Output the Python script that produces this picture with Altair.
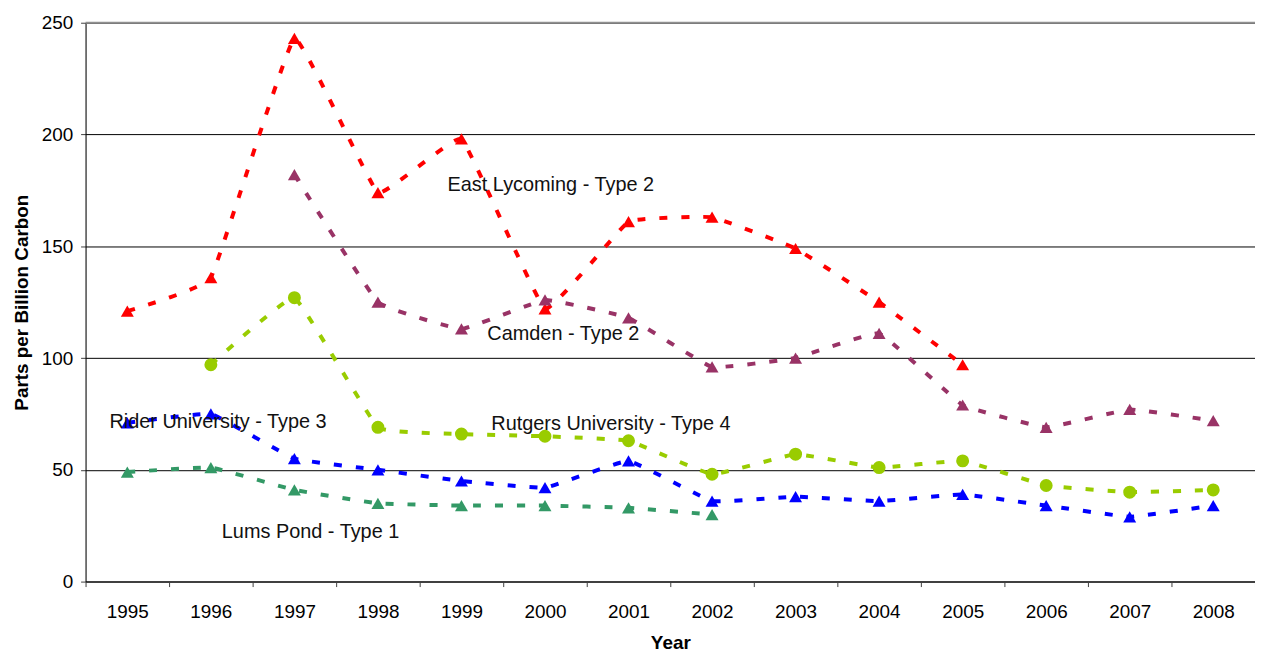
import altair as alt
import pandas as pd

years = [str(y) for y in range(1995, 2009)]

east_lycoming = [121, 136, 243, 174, 198, 122, 161, 163, 149, 125, 97, None, None, None]
camden = [None, None, 182, 125, 113, 126, 118, 96, 100, 111, 79, 69, 77, 72]
rutgers = [None, 97, 127, 69, 66, 65, 63, 48, 57, 51, 54, 43, 40, 41]
rider = [71, 75, 55, 50, 45, 42, 54, 36, 38, 36, 39, 34, 29, 34]
lums_pond = [49, 51, 41, 35, 34, 34, 33, 30, None, None, None, None, None, None]

series_names = ["East Lycoming", "Camden", "Rutgers University", "Rider University", "Lums Pond"]
series_values = [east_lycoming, camden, rutgers, rider, lums_pond]
series_colors = ["#FF0000", "#993366", "#99CC00", "#0000FF", "#339966"]
series_shapes = ["triangle-up", "triangle-up", "circle", "triangle-up", "triangle-up"]
series_sizes = [170, 170, 150, 170, 170]

label_texts = ["East Lycoming - Type 2", "Camden - Type 2", "Rutgers University  - Type 4",
               "Rider University  - Type 3", "Lums Pond - Type 1"]
label_years = ["1999", "1999", "1999", "1995", "1996"]
label_values = [177.5, 110.8, 70.7, 71.2, 22.2]
label_dx = [-14, 26, 30, -18, 11]

rows = []
for name, vals in zip(series_names, series_values):
    for yr, v in zip(years, vals):
        if v is not None:
            rows.append({"series": name, "year": yr, "value": v})
df = pd.DataFrame(rows)

FONT = "Liberation Sans"
W, H = 1176, 562

x_enc = alt.X(
    "year:N",
    sort=years,
    bandPosition=0.5,
    scale=alt.Scale(type="band", domain=years, paddingInner=0, paddingOuter=0),
    axis=alt.Axis(
        title="Year", tickBand="extent", labelAngle=0, grid=False,
        domainColor="#404040", domainWidth=2, tickColor="#404040", tickSize=5,
        labelFont=FONT, labelFontSize=19, labelColor="black", labelPadding=16,
        titleFont=FONT, titleFontSize=19, titleFontWeight="bold", titleColor="black",
        titlePadding=12,
    ),
)
y_enc = alt.Y(
    "value:Q",
    scale=alt.Scale(domain=[0, 250], nice=False, zero=True),
    axis=alt.Axis(
        title="Parts per Billion Carbon", values=[0, 50, 100, 150, 200, 250],
        grid=True, gridColor="black", gridWidth=1,
        domainColor="black", domainWidth=1, tickColor="#404040", tickSize=5,
        labelFont=FONT, labelFontSize=19, labelColor="black", labelPadding=8,
        titleFont=FONT, titleFontSize=19, titleFontWeight="bold", titleColor="black",
        titlePadding=10,
    ),
)
color_enc = alt.Color("series:N", scale=alt.Scale(domain=series_names, range=series_colors), legend=None)

base = alt.Chart(df).encode(x=x_enc, y=y_enc, color=color_enc)

lines = base.mark_line(interpolate="cardinal", tension=0.75, strokeDash=[8, 14], strokeWidth=4)
points = base.mark_point(filled=True, opacity=1).encode(
    shape=alt.Shape("series:N", scale=alt.Scale(domain=series_names, range=series_shapes), legend=None),
    size=alt.Size("series:N", scale=alt.Scale(domain=series_names, range=series_sizes), legend=None),
)

top_border = alt.Chart(pd.DataFrame({"k": [0]})).mark_rule(color="#909090", strokeWidth=2).encode(
    y=alt.value(0)
)

layers = [lines, points, top_border]
for t, yr, v, dx in zip(label_texts, label_years, label_values, label_dx):
    ldf = pd.DataFrame({"text": [t], "year": [yr], "value": [v]})
    layers.append(
        alt.Chart(ldf).mark_text(align="left", baseline="middle", dx=dx, font=FONT,
                                 fontSize=20, color="#111111").encode(
            x=alt.X("year:N", bandPosition=0.5), y="value:Q", text="text:N"
        )
    )

chart = alt.layer(*layers).properties(
    width=W, height=H,
    autosize=alt.AutoSizeParams(type="none"),
    padding={"left": 78, "top": 13, "right": 0, "bottom": 70},
).configure_view(stroke=None).configure(font=FONT)

chart.save("out.html", embed_options={"renderer": "svg", "actions": False})
